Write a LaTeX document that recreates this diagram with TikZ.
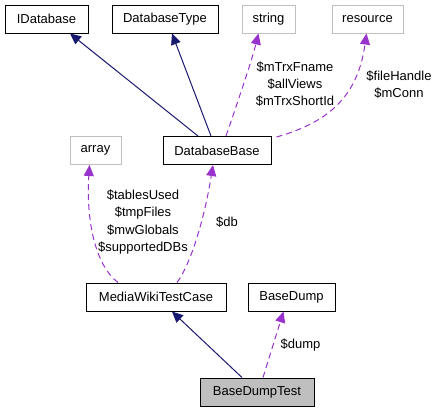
\documentclass[tikz,border=0pt]{standalone}
\usepackage{fontspec}
\setmainfont{Liberation Sans}
\usetikzlibrary{arrows.meta}
\definecolor{navy}{HTML}{191970}
\definecolor{dep}{HTML}{9A32CD}
\definecolor{grayb}{HTML}{BFBFBF}
\tikzset{
  cls/.style={draw=black, line width=1pt, rectangle, inner sep=0pt, minimum height=28pt, font=\fontsize{13}{15}\selectfont},
  ext/.style={cls, draw=grayb},
  inh/.style={draw=navy, line width=1pt, -{Triangle[length=11pt,width=10pt]}},
  use/.style={draw=dep, line width=1pt, dashed, dash pattern=on 6pt off 4pt, -{Triangle[length=11pt,width=10pt,fill=dep]}},
  lbl/.style={font=\fontsize{13}{17.3}\selectfont, align=center, inner sep=0pt}
}
\begin{document}
\begin{tikzpicture}[x=1pt,y=-1pt]
\useasboundingbox (0,0) rectangle (437,413);
\node[cls, minimum width=83pt] (idb) at (46.5,19) {IDatabase};
\node[cls, minimum width=106pt] (dbt) at (165,19) {DatabaseType};
\node[ext, minimum width=53pt] (str) at (268.5,19) {string};
\node[ext, minimum width=71pt] (res) at (367.5,19) {resource};
\node[ext, minimum width=51pt] (arr) at (95.5,150.5) {array};
\node[cls, minimum width=108pt] (dbb) at (217,150.5) {DatabaseBase};
\node[cls, minimum width=140pt] (mwt) at (156,297) {MediaWikiTestCase};
\node[cls, minimum width=87pt] (bd) at (291.5,297) {BaseDump};
\node[cls, minimum width=114pt, fill=grayb] (bdt) at (257,392) {BaseDumpTest};

\draw[inh] ([xshift=-19pt]dbb.north) -- ([xshift=23.5pt]idb.south);
\draw[inh] ([xshift=-6pt]dbb.north) -- ([xshift=7pt]dbt.south);
\draw[use] ([xshift=9pt]dbb.north) .. controls (235,110) and (252,60) .. ([xshift=-10pt]str.south);
\draw[use] ([xshift=5pt,yshift=-1pt]dbb.north east) .. controls (330,122) and (358,95) .. ([xshift=-1pt]res.south);
\draw[use] ([xshift=-38pt]mwt.north) .. controls (95,265) and (86,220) .. ([xshift=-6pt]arr.south);
\draw[use] ([xshift=21pt]mwt.north) .. controls (192,262) and (205,215) .. ([xshift=-4pt]dbb.south);
\draw[inh] ([xshift=-15pt]bdt.north) -- ([xshift=16pt]mwt.south);
\draw[use] ([xshift=6pt]bdt.north) -- ([xshift=-8pt]bd.south);

\node[lbl] (l1) at (295,84) {\$mTrxFname\\\$allViews\\\$mTrxShortId};
\node[lbl] (l2) at (399,84.5) {\$fileHandle\\\$mConn};
\node[lbl] (l3) at (143,222) {\$tablesUsed\\\$tmpFiles\\\$mwGlobals\\\$supportedDBs};
\node[lbl] (l4) at (227,222.5) {\$db};
\node[lbl] (l5) at (300.5,345) {\$dump};
\end{tikzpicture}
\end{document}
